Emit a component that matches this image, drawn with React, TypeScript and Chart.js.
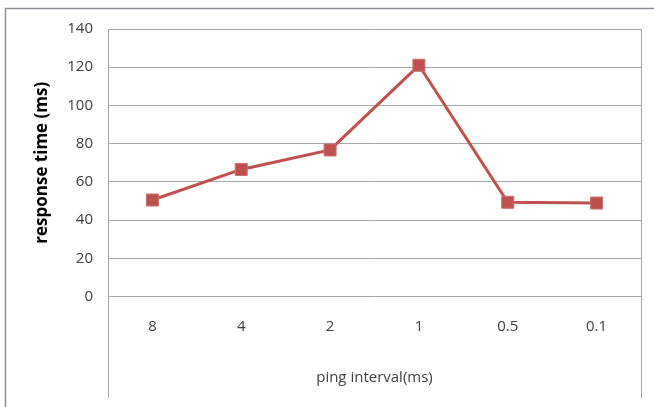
import React, { useEffect, useRef } from "react";
import { Chart, registerables } from "chart.js";

Chart.register(...registerables);

const intervals = ["8", "4", "2", "1", "0.5", "0.1"];
const responseTimes = [50.5, 66.5, 76.7, 121, 49.3, 48.9];
const yTicks = [0, 20, 40, 60, 80, 100, 120, 140];

const FONT = "'Open Sans', 'Liberation Sans', sans-serif";
const TEXT = "#404040";
const GRID = "#a3a7ad";
const LINE = "#c0504d";

// Frame edge lines plus the plot-area sides that run down through the label band
const framePlugin = {
  id: "frame",
  beforeDraw(chart: Chart) {
    const { ctx, chartArea } = chart;
    const xs = chart.scales.x;
    ctx.save();
    ctx.strokeStyle = "#8c9096";
    ctx.lineWidth = 1.5;
    ctx.beginPath();
    ctx.moveTo(5.5, chart.height);
    ctx.lineTo(5.5, 8.5);
    ctx.lineTo(chart.width, 8.5);
    ctx.stroke();
    ctx.strokeStyle = GRID;
    ctx.lineWidth = 1;
    const bottom = xs.bottom - 9;
    for (const x of [chartArea.left, chartArea.right]) {
      const px = Math.round(x) + 0.5;
      ctx.beginPath();
      ctx.moveTo(px, chartArea.top);
      ctx.lineTo(px, bottom);
      ctx.stroke();
    }
    ctx.restore();
  },
};

export default function App() {
  const ref = useRef<HTMLCanvasElement | null>(null);

  useEffect(() => {
    if (!ref.current) return;
    const chart = new Chart(ref.current, {
      type: "line",
      data: {
        labels: intervals,
        datasets: [
          {
            data: responseTimes,
            borderColor: LINE,
            backgroundColor: LINE,
            borderWidth: 3,
            pointStyle: "rect",
            pointRadius: 8.5,
            pointBorderWidth: 1,
            pointBorderColor: "#c9726f",
            pointBackgroundColor: LINE,
            tension: 0,
          },
        ],
      },
      options: {
        responsive: false,
        animation: false,
        layout: { padding: { left: 0, right: 13, top: 29, bottom: 0 } },
        plugins: { legend: { display: false }, tooltip: { enabled: false } },
        scales: {
          x: {
            offset: true,
            grid: { display: false, drawTicks: false },
            border: { display: false },
            ticks: {
              color: TEXT,
              font: { family: FONT, size: 15 },
              padding: 21,
            },
            title: {
              display: true,
              text: "ping interval(ms)",
              color: TEXT,
              font: { family: FONT, size: 15 },
              padding: { top: 0, bottom: 20 },
            },
            afterFit(s: any) {
              s.height = 110.5;
            },
          },
          y: {
            min: 0,
            max: 140,
            afterBuildTicks(s: any) {
              s.ticks = yTicks.map((v) => ({ value: v }));
            },
            grid: { color: GRID, lineWidth: 1, drawTicks: false },
            border: { display: false },
            ticks: {
              color: TEXT,
              font: { family: FONT, size: 15 },
              padding: 15,
            },
            title: {
              display: true,
              text: "response time (ms)",
              color: "#000000",
              font: { family: FONT, size: 17, weight: "bold" },
              padding: { top: 32, bottom: 0 },
            },
            afterFit(s: any) {
              s.width = 108;
            },
          },
        },
      },
      plugins: [framePlugin],
    });
    return () => chart.destroy();
  }, []);

  return (
    <div style={{ position: "fixed", left: 0, top: 0, width: 654, height: 407, background: "#fff" }}>
      <canvas ref={ref} width={654} height={407} style={{ display: "block" }} />
    </div>
  );
}
